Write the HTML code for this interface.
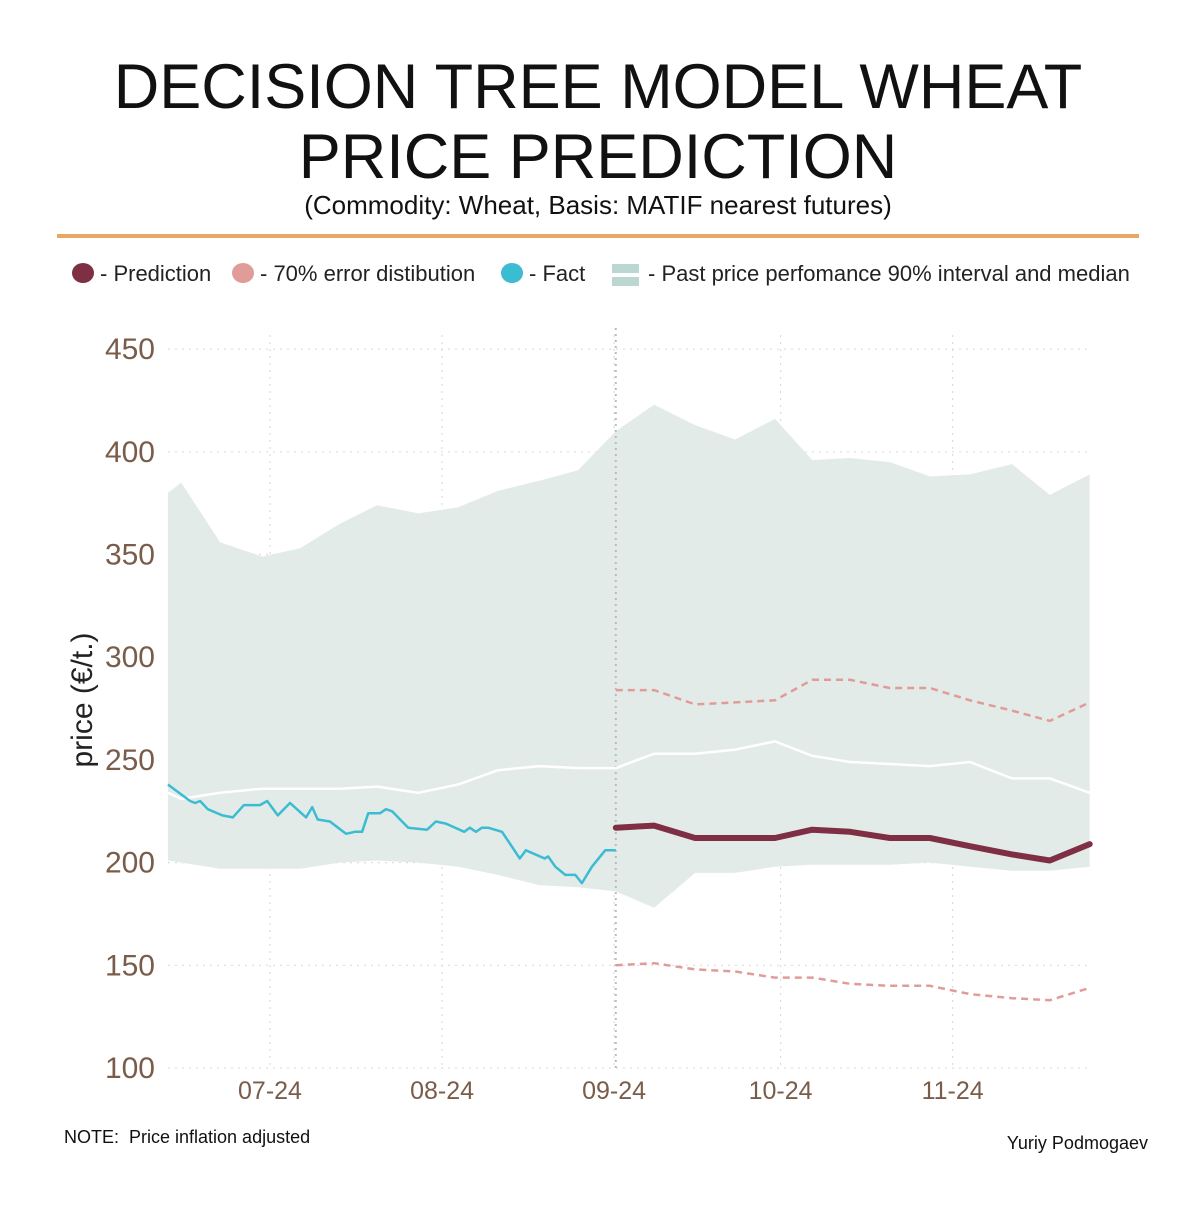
<!DOCTYPE html>
<html><head><meta charset="utf-8"><style>
body{margin:0;background:#fff;font-family:"Liberation Sans",sans-serif}
svg text{font-family:"Liberation Sans",sans-serif}
</style></head><body>
<svg width="1200" height="1200" viewBox="0 0 1200 1200">
<text x="598" y="108" text-anchor="middle" font-size="63" fill="#111">DECISION TREE MODEL WHEAT</text>
<text x="598" y="178" text-anchor="middle" font-size="63" fill="#111">PRICE PREDICTION</text>
<text x="598" y="214" text-anchor="middle" font-size="26" fill="#111">(Commodity: Wheat, Basis: MATIF nearest futures)</text>
<rect x="57" y="234" width="1082" height="4" fill="#e8a865"/>
<g font-size="22" fill="#222">
<g><ellipse cx="83" cy="273" rx="11" ry="10" fill="#7f2f44"/><text x="100" y="281">- Prediction</text></g>
<g><ellipse cx="243" cy="273" rx="11" ry="10" fill="#e09c98"/><text x="260" y="281">- 70% error distibution</text></g>
<g><ellipse cx="512" cy="273" rx="11" ry="10" fill="#3bbcd3"/><text x="529" y="281">- Fact</text></g>
<g><rect x="612" y="264" width="27" height="9" fill="#bcd6d1"/><rect x="612" y="277" width="27" height="9" fill="#bcd6d1"/><text x="648" y="281">- Past price perfomance 90% interval and median</text></g>
</g>
<g id="plot"></g>
<text transform="translate(92,700) rotate(-90)" text-anchor="middle" font-size="30" fill="#222">price (€/t.)</text>
<text x="64" y="1143" font-size="18" fill="#111" xml:space="preserve">NOTE:  Price inflation adjusted</text>
<text x="1148" y="1149" text-anchor="end" font-size="18" fill="#111">Yuriy Podmogaev</text>
</svg>
<script>
const yTicks=[100,150,200,250,300,350,400,450];
const xTickDays=[0,31,62,92,123];
const xTickLabels=["07-24","08-24","09-24","10-24","11-24"];
const bandDays=[-18.4,-16.0,-9.0,-1.4,5.4,12.6,19.3,26.7,33.9,41.1,48.6,55.5,62.3,69.2,76.6,83.8,91.0,97.7,104.5,111.7,118.9,126.1,133.7,140.5,147.7];
const bandUpper=[380,385,356,349,353,365,374,370,373,381,386,391,410,423,413,406,416,396,397,395,388,389,394,379,389];
const bandLower=[201,200,197,197,197,200,201,200,198,194,189,188,186,178,195,195,198,199,199,199,200,198,196,196,198];
const median=[234,231,234,236,236,236,237,234,238,245,247,246,246,253,253,255,259,252,249,248,247,249,241,241,234];
const factDays=[-18.4,-14.4,-13.5,-12.6,-11.2,-8.6,-6.7,-4.7,-1.8,-0.5,1.4,3.6,6.5,7.6,8.6,10.8,13.7,15.3,16.6,17.7,19.8,20.9,22.0,24.9,28.3,29.9,31.7,35.0,36.0,37.1,38.2,39.3,41.8,45.0,46.1,49.5,50.1,51.4,53.2,55.0,56.2,58.0,60.4,62.3];
const factValues=[238,230,229,230,226,223,222,228,228,230,223,229,222,227,221,220,214,215,215,224,224,226,225,217,216,220,219,215,217,215,217,217,215,202,206,202,203,198,194,194,190,198,206,206];
const predDays=[62.3,69.2,76.6,83.8,91.0,97.7,104.5,111.7,118.9,126.1,133.7,140.5,147.7];
const predValues=[217,218,212,212,212,216,215,212,212,208,204,201,209];
const errUpper=[284,284,277,278,279,289,289,285,285,279,274,269,278];
const errLower=[150,151,148,147,144,144,141,140,140,136,134,133,139];
const forecastStartDay=62.3;

const X=d=>270+5.55*d;
const Y=v=>1068-(v-100)*2.054;
const NS="http://www.w3.org/2000/svg";
const plot=document.getElementById('plot');
function mk(tag,attrs){const e=document.createElementNS(NS,tag);for(const k in attrs)e.setAttribute(k,attrs[k]);plot.appendChild(e);return e;}
function pts(ds,vs){return ds.map((d,i)=>X(d).toFixed(1)+','+Y(vs[i]).toFixed(1)).join(' ');}

yTicks.forEach(t=>{
  const g=mk('line',{x1:168,x2:1090,y1:Y(t),y2:Y(t),stroke:'#ddd','stroke-dasharray':'2,5','stroke-width':1.2});
  
  
  const tx=mk('text',{x:155,y:Y(t)+10,'text-anchor':'end','font-size':30,fill:'#7a5c4a'});
  tx.textContent=t;
  
  
});
xTickDays.forEach((d,i)=>{
  const g=mk('line',{x1:X(d),x2:X(d),y1:335,y2:1068,stroke:'#ddd','stroke-dasharray':'2,5','stroke-width':1.2});
  
  
  const tx=mk('text',{x:X(d),y:1099,'text-anchor':'middle','font-size':25,fill:'#7a5c4a'});
  tx.textContent=xTickLabels[i];
  
  
});
const band=mk('polygon',{points:pts(bandDays,bandUpper)+' '+pts(bandDays.slice().reverse(),bandLower.slice().reverse()),fill:'#e3ebe8'});


const vline=mk('line',{x1:X(forecastStartDay),x2:X(forecastStartDay),y1:328,y2:1068,stroke:'#bbb','stroke-dasharray':'2,4','stroke-width':2});


const med=mk('polyline',{points:pts(bandDays,median),fill:'none',stroke:'#fff','stroke-width':2.5});


const eu=mk('polyline',{points:pts(predDays,errUpper),fill:'none',stroke:'#e09c98','stroke-width':2.5,'stroke-dasharray':'7,5'});


const el=mk('polyline',{points:pts(predDays,errLower),fill:'none',stroke:'#e09c98','stroke-width':2.5,'stroke-dasharray':'7,5'});


const fl=mk('polyline',{points:pts(factDays,factValues),fill:'none',stroke:'#3bbcd3','stroke-width':2.5,'stroke-linejoin':'round'});


const pl=mk('polyline',{points:pts(predDays,predValues),fill:'none',stroke:'#7f2f44','stroke-width':6,'stroke-linecap':'round','stroke-linejoin':'round'});


</script>
</body></html>
